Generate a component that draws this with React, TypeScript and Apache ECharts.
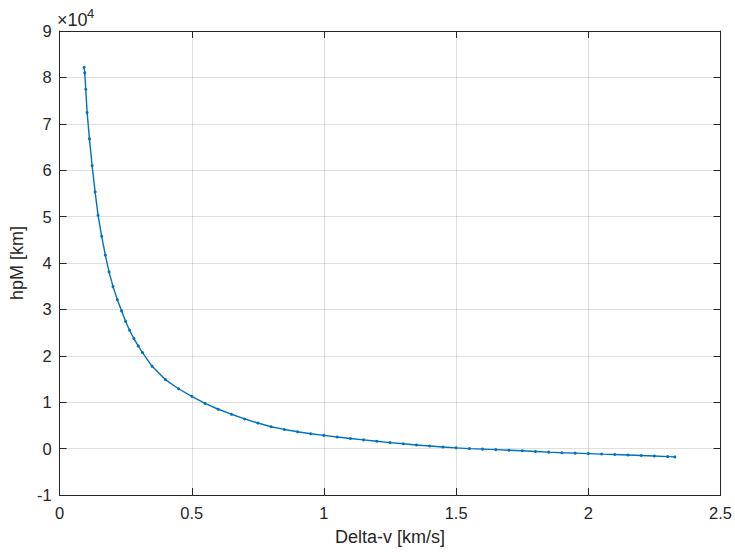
import React, { useEffect, useRef } from "react";
import * as echarts from "echarts";

const deltaV = [
  0.093, 0.0953, 0.099, 0.1043, 0.113, 0.1231, 0.1344, 0.1457, 0.1593, 0.1732,
  0.1871, 0.2022, 0.2184, 0.2346, 0.2496, 0.2647, 0.2813, 0.2974, 0.3136, 0.35,
  0.4, 0.45, 0.5, 0.55, 0.6, 0.65, 0.7, 0.75, 0.8, 0.85, 0.9, 0.95, 1.0, 1.05,
  1.1, 1.15, 1.2, 1.25, 1.3, 1.35, 1.4, 1.45, 1.5, 1.55, 1.6, 1.65, 1.7, 1.75,
  1.8, 1.85, 1.9, 1.95, 2.0, 2.05, 2.1, 2.15, 2.2, 2.25, 2.3, 2.327,
];
const hpM = [
  82180, 80970, 77440, 72410, 66750, 60990, 55320, 50280, 45750, 41660, 38080,
  34910, 32110, 29680, 27440, 25500, 23710, 22130, 20690, 17740, 14870, 12900,
  11270, 9750, 8480, 7410, 6390, 5510, 4710, 4130, 3620, 3200, 2850, 2500, 2180,
  1880, 1580, 1290, 1030, 790, 570, 360, 160, 0, -110, -220, -340, -460, -610,
  -760, -880, -980, -1080, -1180, -1270, -1370, -1480, -1590, -1720, -1790,
];

const xTicks = { min: 0, max: 2.5, interval: 0.5 };
const yTicks = { min: -10000, max: 90000, interval: 10000 };
const xLabel = "Delta-v [km/s]";
const yLabel = "hpM [km]";

const FONT = "'Liberation Sans', Arial, Helvetica, sans-serif";
const AX = "#262626";

export default function App() {
  const ref = useRef<HTMLDivElement>(null);
  useEffect(() => {
    if (!ref.current) return;
    const chart = echarts.init(ref.current, null, { renderer: "svg" });
    const axisLine = { show: true, onZero: false, lineStyle: { color: AX, width: 1 } };
    const tick = { show: true, inside: true, length: 7, lineStyle: { color: AX, width: 1 } };
    const split = { show: true, lineStyle: { color: "rgba(38,38,38,0.15)", width: 1 } };
    chart.setOption({
      animation: false,
      backgroundColor: "#ffffff",
      textStyle: { fontFamily: FONT },
      grid: { left: 57, right: 14, top: 31, bottom: 57, containLabel: false },
      graphic: [
        {
          type: "text",
          x: 57,
          y: 11,
          style: {
            text: "×10",
            fontSize: 18,
            fontWeight: "normal",
            fontFamily: FONT,
            fill: AX,
            verticalAlign: "top",
          },
        },
        {
          type: "text",
          x: 87,
          y: 6.5,
          style: {
            text: "4",
            fontSize: 13,
            fontWeight: "normal",
            fontFamily: FONT,
            fill: AX,
            verticalAlign: "top",
          },
        },
      ],
      xAxis: [
        {
          type: "value",
          ...xTicks,
          position: "bottom",
          axisLine,
          axisTick: tick,
          splitLine: split,
          axisLabel: { fontSize: 16.5, color: AX, margin: 9, fontFamily: FONT },
          name: xLabel,
          nameLocation: "middle",
          nameGap: 33,
          nameTextStyle: { fontSize: 18, color: AX, fontFamily: FONT },
        },
        {
          type: "value",
          ...xTicks,
          position: "top",
          axisLine,
          axisTick: tick,
          splitLine: { show: false },
          axisLabel: { show: false },
        },
      ],
      yAxis: [
        {
          type: "value",
          ...yTicks,
          position: "left",
          axisLine,
          axisTick: tick,
          splitLine: split,
          axisLabel: {
            fontSize: 16.5,
            color: AX,
            margin: 8,
            fontFamily: FONT,
            formatter: (v: number) => String(Math.round(v / 10000)),
          },
          name: yLabel,
          nameLocation: "middle",
          nameGap: 28,
          nameTextStyle: { fontSize: 18, color: AX, fontFamily: FONT },
        },
        {
          type: "value",
          ...yTicks,
          position: "right",
          axisLine,
          axisTick: tick,
          splitLine: { show: false },
          axisLabel: { show: false },
        },
      ],
      series: [
        {
          type: "line",
          xAxisIndex: 0,
          yAxisIndex: 0,
          data: deltaV.map((x, i) => [x, hpM[i]]),
          showSymbol: true,
          symbol: "circle",
          symbolSize: 3,
          color: "#0072BD",
          lineStyle: { color: "#0072BD", width: 1.4 },
          itemStyle: { color: "#0072BD" },
          clip: false,
        },
      ],
    });
    return () => chart.dispose();
  }, []);
  return (
    <div
      ref={ref}
      style={{ position: "fixed", left: 0, top: 0, width: 735, height: 552 }}
    />
  );
}
